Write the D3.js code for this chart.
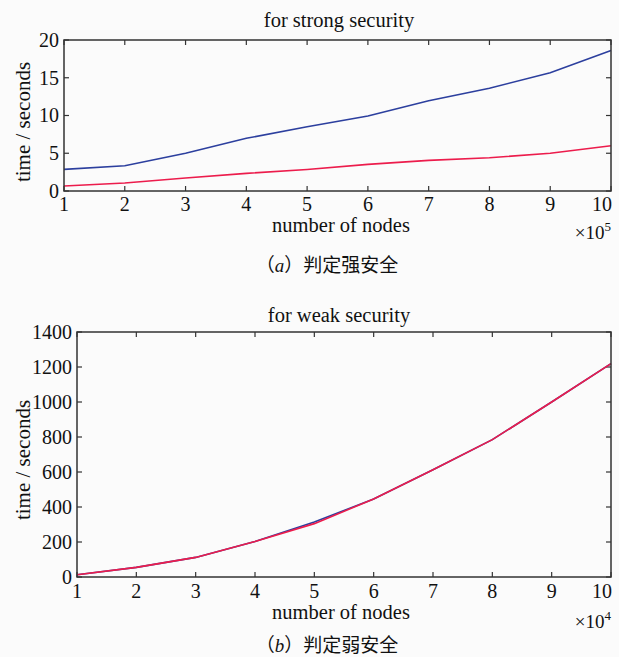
<!DOCTYPE html>
<html><head><meta charset="utf-8">
<script src="https://cdn.jsdelivr.net/npm/d3@7"></script>
<style>
html,body{margin:0;padding:0;background:#fbfbfb;}
svg{display:block;}
text{font-family:"Liberation Serif","Times New Roman",serif;fill:#111;}
</style></head><body>
<svg id="c" width="619" height="657"></svg>
<script>
// ---- data ----
const nodesX = [1,2,3,4,5,6,7,8,9,10];
const xTicks = [1,2,3,4,5,6,7,8,9,10];

const strongTitle = "for strong security";
const strongBlue = [2.87,3.35,5.0,6.98,8.5,9.93,11.96,13.6,15.67,18.6];
const strongRed  = [0.66,1.06,1.72,2.34,2.85,3.53,4.06,4.41,4.99,6.0];
const strongYTicks = [0,5,10,15,20];
const strongExp = "5";
const strongCaption = ["（", "a", "）判定强安全"];

const weakTitle = "for weak security";
const weakBlue = [13,55,112,203,314,446,613,785,1000,1219];
const weakRed  = [13,55,112,203,305,446,613,785,1000,1219];
const weakYTicks = [0,200,400,600,800,1000,1200,1400];
const weakExp = "4";
const weakCaption = ["（", "b", "）判定弱安全"];

const xLabel = "number of nodes";
const yLabel = "time / seconds";

const BLUE = "#2c3f9e", RED = "#ec1c4c", AX = "#333";

const svg = d3.select("#c");

function panel(cfg){
  const {x0,x1,y0,y1,ymax,yTicks,blue,red,title,titleY,exp,caption,capY,xlabY,ylabX,ylabY,expY,ticksY} = cfg;
  const x = d3.scaleLinear().domain([1,10]).range([x0,x1]);
  const y = d3.scaleLinear().domain([0,ymax]).range([y1,y0]);
  const g = svg.append("g");
  const tl = 5;
  xTicks.forEach((t,i)=>{
    g.append("line").attr("x1",x(t)).attr("x2",x(t)).attr("y1",y1).attr("y2",y1-tl).attr("stroke",AX).attr("stroke-width",1.2);
    g.append("line").attr("x1",x(t)).attr("x2",x(t)).attr("y1",y0).attr("y2",y0+tl).attr("stroke",AX).attr("stroke-width",1.2);
    const last = i===xTicks.length-1;
    g.append("text").attr("x",last? x(t)+1 : x(t)).attr("y",ticksY)
      .attr("text-anchor",last?"end":"middle").attr("font-size",20).text(t);
  });
  yTicks.forEach(t=>{
    g.append("line").attr("x1",x0).attr("x2",x0+tl).attr("y1",y(t)).attr("y2",y(t)).attr("stroke",AX).attr("stroke-width",1.2);
    g.append("line").attr("x1",x1).attr("x2",x1-tl).attr("y1",y(t)).attr("y2",y(t)).attr("stroke",AX).attr("stroke-width",1.2);
    g.append("text").attr("x",x0-5).attr("y",y(t)).attr("dy","0.34em").attr("text-anchor","end").attr("font-size",20).text(t);
  });
  const line = d3.line().x((d,i)=>x(nodesX[i])).y(d=>y(d));
  g.append("path").datum(blue).attr("d",line).attr("fill","none").attr("stroke",BLUE).attr("stroke-width",1.6);
  g.append("path").datum(red).attr("d",line).attr("fill","none").attr("stroke",RED).attr("stroke-width",1.6);
  g.append("rect").attr("x",x0).attr("y",y0).attr("width",x1-x0).attr("height",y1-y0).attr("fill","none").attr("stroke",AX).attr("stroke-width",1.5);
  g.append("text").attr("x",339).attr("y",titleY).attr("text-anchor","middle").attr("font-size",20.5).text(title);
  g.append("text").attr("x",341).attr("y",xlabY).attr("text-anchor","middle").attr("font-size",20.5).text(xLabel);
  g.append("text").attr("transform",`translate(${ylabX},${ylabY}) rotate(-90)`).attr("text-anchor","middle").attr("font-size",21).text(yLabel);
  const e = g.append("text").attr("x",611).attr("y",expY).attr("text-anchor","end").attr("font-size",19);
  e.append("tspan").text("×10");
  e.append("tspan").attr("dy",-8).attr("font-size",13).text(exp);
  const c = g.append("text").attr("x",327).attr("y",capY).attr("text-anchor","middle").attr("font-size",19)
    .style("font-family","'Noto Sans CJK SC',sans-serif");
  c.append("tspan").text(caption[0]);
  c.append("tspan").style("font-family","'Liberation Serif',serif").attr("font-style","italic").text(caption[1]);
  c.append("tspan").text(caption[2]);
}

panel({x0:64,x1:611,y0:40,y1:191,ymax:20,yTicks:strongYTicks,blue:strongBlue,red:strongRed,
  title:strongTitle,titleY:27,exp:strongExp,caption:strongCaption,capY:272,xlabY:232,ylabX:30,ylabY:122,expY:239,ticksY:211});
panel({x0:77,x1:611,y0:332,y1:577,ymax:1400,yTicks:weakYTicks,blue:weakBlue,red:weakRed,
  title:weakTitle,titleY:322,exp:weakExp,caption:weakCaption,capY:652,xlabY:619,ylabX:30,ylabY:460,expY:628,ticksY:598});
</script>
</body></html>
